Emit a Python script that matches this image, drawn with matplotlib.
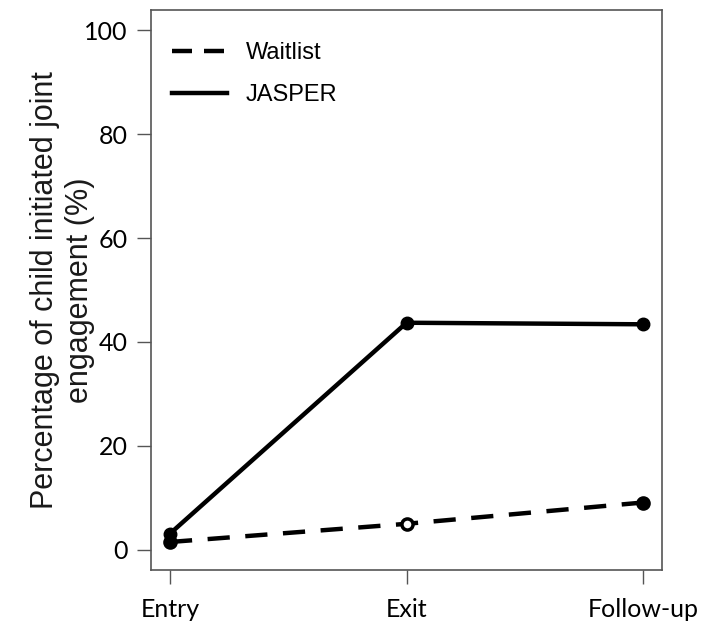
import matplotlib.pyplot as plt
from matplotlib.lines import Line2D

timepoints = ["Entry", "Exit", "Follow-up"]
waitlist = [1.5, 5.0, 9.1]
jasper = [3.1, 43.7, 43.4]
waitlist_open = [False, True, False]

plt.rcParams["font.family"] = ["Liberation Sans", "DejaVu Sans"]

fig = plt.figure(figsize=(7.04, 6.23), dpi=100)
ax = fig.add_axes([0.2145, 0.085, 0.726, 0.899])

x = [1, 2, 3]
ax.plot(x, jasper, color="black", lw=3.2, solid_capstyle="round")
ax.plot(x, jasper, "o", color="black", ms=9)
ax.plot(x, waitlist, color="black", lw=3.2, ls=(0, (5, 3.5)))
for xi, yi, is_open in zip(x, waitlist, waitlist_open):
    ax.plot(xi, yi, "o", ms=8, color="black",
            mfc="white" if is_open else "black", mew=2.5)

ax.set_xlim(0.92, 3.08)
ax.set_ylim(-3.9, 103.9)
ax.set_xticks(x)
ax.set_xticklabels(timepoints, family="Lato", fontsize=18)
ax.set_yticks([0, 20, 40, 60, 80, 100])
ax.set_yticklabels(["0", "20", "40", "60", "80", "100"], family="Lato", fontsize=18)
ax.tick_params(direction="out", length=10, width=1, color="#555555", pad=7)
ax.tick_params(axis="x", pad=10)
for s in ax.spines.values():
    s.set_color("#555555")
    s.set_linewidth(1.2)

ax.set_ylabel("Percentage of child initiated joint\nengagement (%)", fontsize=22,
              linespacing=1.2, color="#1a1a1a")
ax.yaxis.set_label_coords(-0.11, 0.5)

handles = [
    Line2D([], [], color="black", lw=3.2, ls=(0, (4.5, 2.7))),
    Line2D([], [], color="black", lw=3.2),
]
ax.legend(handles, ["Waitlist", "JASPER"], loc="upper left", frameon=False,
          fontsize=17, handlelength=2.3, handletextpad=0.8, labelspacing=0.85,
          bbox_to_anchor=(0.0, 0.98))

fig.savefig("out.png", dpi=100)
